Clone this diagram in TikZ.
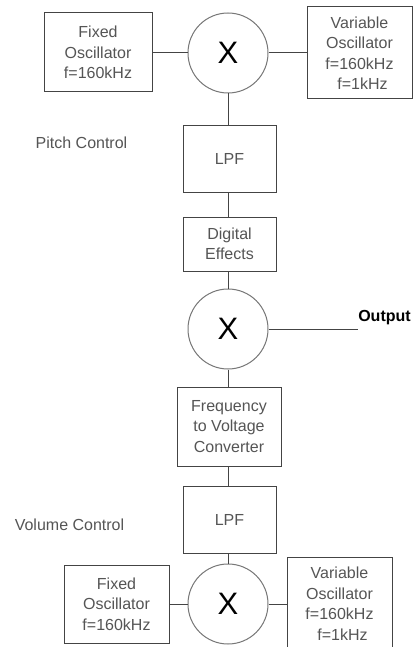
\documentclass[tikz,border=0pt]{standalone}
\usepackage{fontspec}
\setmainfont{Liberation Sans}
\definecolor{txt}{HTML}{555555}
\definecolor{edge}{HTML}{444444}
\definecolor{ring}{HTML}{777777}
\begin{document}
\begin{tikzpicture}[x=1pt,y=-1pt,
  blk/.style={draw=edge,line width=1pt,rectangle,inner sep=0pt,align=center,text=txt,
    font=\fontsize{16}{20.5}\selectfont},
  mix/.style={draw=ring,line width=1pt,circle,minimum size=80pt,inner sep=0pt,
    font=\fontsize{31}{31}\selectfont},
  lbl/.style={text=txt,font=\fontsize{16}{20.5}\selectfont,inner sep=0pt},
  wire/.style={draw=edge,line width=1pt}]
\useasboundingbox (0,0) rectangle (418,647);
\fill[white] (0,0) rectangle (418,647);
% top section
\node[blk,minimum width=108pt,minimum height=79pt] (fix1) at (98,52.5) {Fixed\\Oscillator\\f=160kHz};
\node[mix] (mix1) at (228,53) {X};
\node[blk,minimum width=105pt,minimum height=92pt] (var1) at (359.5,53) {Variable\\Oscillator\\f=160kHz\\\hspace*{6pt}f=1kHz};
\node[lbl] (pitch) at (81.5,143) {Pitch Control};
\node[blk,minimum width=93pt,minimum height=66pt] (lpf1) at (229.5,159) {LPF};
\node[blk,minimum width=93pt,minimum height=54pt] (de) at (229.5,244) {Digital\\Effects};
\node[mix] (mix2) at (228,329) {X};
\node[lbl,font=\fontsize{16}{20.5}\selectfont\bfseries,text=black] (out) at (384.5,318) {Output};
\coordinate (outend) at (358,329);
\node[blk,minimum width=104pt,minimum height=79pt] (fvc) at (229,426.5) {Frequency\\to Voltage\\Converter};
\node[lbl] (vol) at (69.5,525) {Volume Control};
\node[blk,minimum width=93pt,minimum height=67pt] (lpf2) at (229.5,519.5) {LPF};
\node[mix] (mix3) at (228,604) {X};
\node[blk,minimum width=105pt,minimum height=78pt] (fix2) at (116.5,604) {Fixed\\Oscillator\\f=160kHz};
\node[blk,minimum width=105pt,minimum height=92pt] (var2) at (339.5,603.5) {Variable\\Oscillator\\f=160kHz\\\hspace*{6pt}f=1kHz};
% connectors
\draw[wire] (fix1.east |- mix1.west) -- (mix1.west);
\draw[wire] (mix1.east) -- (var1.west |- mix1.east);
\draw[wire] (mix1.south) -- (mix1.south |- lpf1.north);
\draw[wire] (lpf1.south -| mix1.south) -- (mix1.south |- de.north);
\draw[wire] (de.south -| mix2.north) -- (mix2.north);
\draw[wire] (mix2.east) -- (outend);
\draw[wire] (mix2.south) -- (mix2.south |- fvc.north);
\draw[wire] (fvc.south -| mix2.south) -- (mix2.south |- lpf2.north);
\draw[wire] (lpf2.south -| mix3.north) -- (mix3.north);
\draw[wire] (fix2.east |- mix3.west) -- (mix3.west);
\draw[wire] (mix3.east) -- (var2.west |- mix3.east);
\end{tikzpicture}
\end{document}
